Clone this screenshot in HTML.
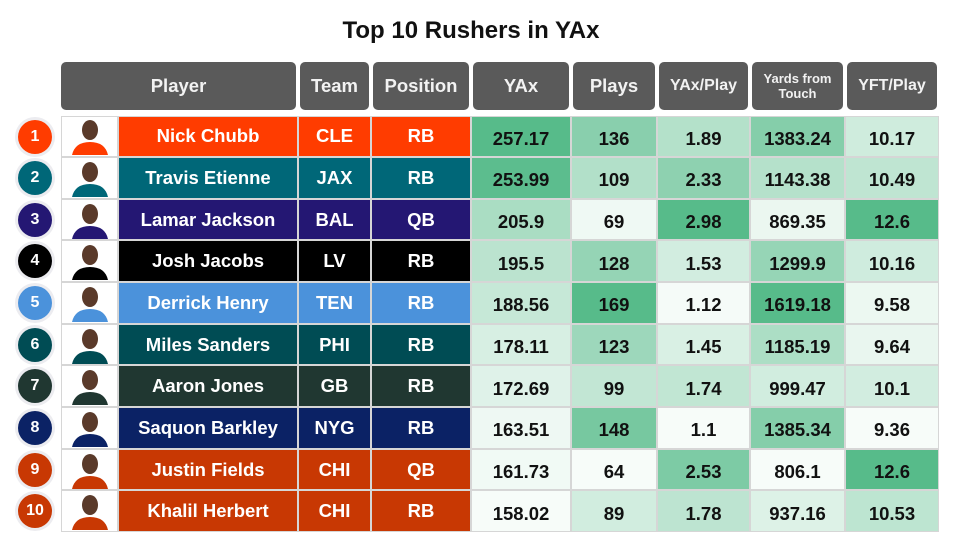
<!DOCTYPE html>
<html><head><meta charset="utf-8">
<style>
body{margin:0;width:960px;height:540px;background:#fff;overflow:hidden;font-family:"Liberation Sans",sans-serif;position:relative}
.abs{position:absolute;box-sizing:border-box;display:flex;align-items:center;justify-content:center;text-align:center}
.hdr{background:#5a5a5a;color:#f2f2f2;font-weight:bold;border-radius:5px;font-size:18.5px}
.cell{border:1px solid #d6d6d6;font-weight:bold;font-size:18.5px}
.rank{border-radius:50%;color:#fff;font-weight:bold;font-size:16px;box-shadow:0 0 0 3px #ececf0}
</style></head><body>
<div id="title" class="abs" style="left:-9px;top:13px;width:960px;height:36px;font-size:24px;font-weight:bold;color:#111">Top 10 Rushers in YAx</div>
<div id="tbl"></div>
<script>
const players=["Nick Chubb","Travis Etienne","Lamar Jackson","Josh Jacobs","Derrick Henry","Miles Sanders","Aaron Jones","Saquon Barkley","Justin Fields","Khalil Herbert"];
const teams=["CLE","JAX","BAL","LV","TEN","PHI","GB","NYG","CHI","CHI"];
const positions=["RB","RB","QB","RB","RB","RB","RB","RB","QB","RB"];
const yax=["257.17","253.99","205.9","195.5","188.56","178.11","172.69","163.51","161.73","158.02"];
const plays=["136","109","69","128","169","123","99","148","64","89"];
const yaxPlay=["1.89","2.33","2.98","1.53","1.12","1.45","1.74","1.1","2.53","1.78"];
const yft=["1383.24","1143.38","869.35","1299.9","1619.18","1185.19","999.47","1385.34","806.1","937.16"];
const yftPlay=["10.17","10.49","12.6","10.16","9.58","9.64","10.1","9.36","12.6","10.53"];
const teamColors={CLE:"#ff3c00",JAX:"#006778",BAL:"#241773",LV:"#000000",TEN:"#4b92db",PHI:"#004c54",GB:"#203731",NYG:"#0b2265",CHI:"#c83803"};
const headers=["Player","Team","Position","YAx","Plays","YAx/Play","Yards from<br>Touch","YFT/Play"];
const hdrNames=["player","team","position","yax","plays","yax-per-play","yards-from-touch","yft-per-play"];
const xs=[61,298,371,471,571,657,750,845,939];
const imgW=57, top0=115.5, rowH=41.65;
const T=document.getElementById('tbl');
function mk(cls,l,t,w,h,html){const d=document.createElement('div');d.className='abs '+cls;d.style.left=l+'px';d.style.top=t+'px';d.style.width=w+'px';d.style.height=h+'px';d.innerHTML=html;T.appendChild(d);return d;}
headers.forEach((h,i)=>{
  const d=mk('hdr',xs[i]+(i?2:0),62,xs[i+1]-xs[i]-(i?4:2),48,h);
  if(i==6){d.style.fontSize='13px';d.style.lineHeight='15px';}
  if(i==5||i==7)d.style.fontSize='16px';
  
  
});
const numCols=[yax,plays,yaxPlay,yft,yftPlay];
const colNames=["yax","plays","yax-per-play","yards-from-touch","yft-per-play"];
function shade(v,arr){const n=arr.map(Number);const mn=Math.min(...n),mx=Math.max(...n);const f=(Number(v)-mn)/(mx-mn||1);
  const a=[247,252,249],b=[87,187,138];return 'rgb('+a.map((c,k)=>Math.round(c+(b[k]-c)*f)).join(',')+')';}
players.forEach((p,r)=>{
  const y=top0+r*rowH, col=teamColors[teams[r]];
  const rk=mk('rank',18,y+4,34,34,String(r+1));rk.style.background=col;
  
  
  const im=mk('cell',xs[0],y,imgW,rowH,'<svg width="46" height="38" viewBox="0 0 46 38"><ellipse cx="23" cy="13" rx="8" ry="10" fill="#5a3a2a"/><path d="M5 38 Q8 25 23 25 Q38 25 41 38Z" fill="'+col+'"/></svg>');
  im.style.background='#fff';
  
  
  const vals=[p,teams[r],positions[r]];
  const ls=[xs[0]+imgW,xs[1],xs[2]],rs=[xs[1],xs[2],xs[3]];
  vals.forEach((v,i)=>{const c=mk('cell',ls[i],y,rs[i]-ls[i],rowH,v);c.style.background=col;c.style.color='#fff';
    
    });
  numCols.forEach((arr,i)=>{const c=mk('cell',xs[3+i],y,xs[4+i]-xs[3+i],rowH,arr[r]);c.style.background=shade(arr[r],arr);c.style.color='#111';c.style.paddingTop='5px';
    
    });
});
</script>
</body></html>
